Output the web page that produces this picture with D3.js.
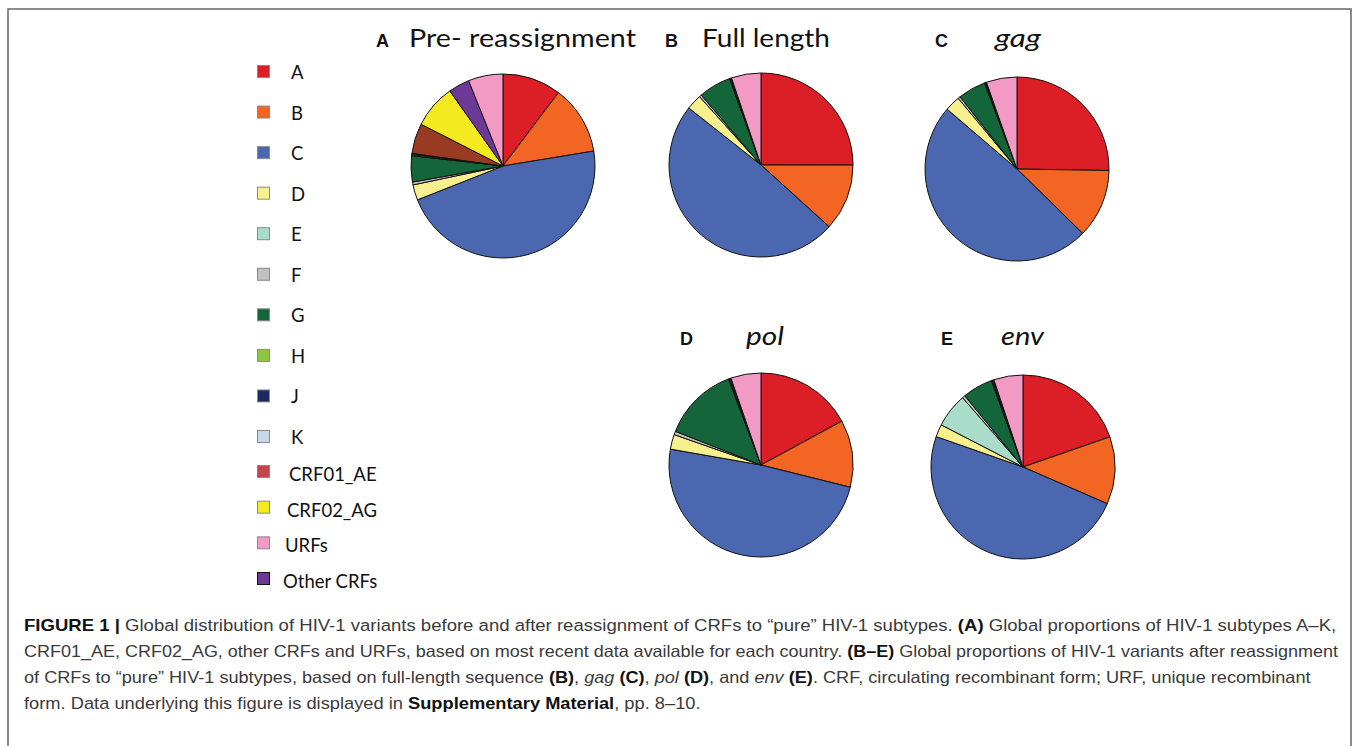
<!DOCTYPE html>
<html>
<head>
<meta charset="utf-8">
<script src="https://cdnjs.cloudflare.com/ajax/libs/d3/7.8.5/d3.min.js"></script>
<style>
  html, body { margin: 0; padding: 0; background: #fff; }
  svg { display: block; }
</style>
</head>
<body>
<svg id="fig" width="1357" height="746"></svg>
<script>
// HIV-1 variant categories, in the order the slices are drawn (clockwise from 12 o'clock)
const pieOrder = ["A", "B", "C", "D", "E", "F", "G", "H", "J", "K", "CRF01_AE", "CRF02_AG", "Other CRFs", "URFs"];
// legend lists URFs before Other CRFs
const legendOrder = ["A", "B", "C", "D", "E", "F", "G", "H", "J", "K", "CRF01_AE", "CRF02_AG", "URFs", "Other CRFs"];

// percentages (same order as pieOrder)
const preReassignment = [10.3, 12.1, 46.6, 2.7, 0, 0.5, 4.6, 0.2, 0.1, 0.1, 5.3, 7.7, 3.7, 6.1];
const fullLength      = [25.0, 11.7, 48.9, 2.7, 0, 0.4, 5.7, 0.1, 0.2, 0.05, 0, 0, 0, 5.2];
const gagValues       = [25.3, 12.1, 49.0, 2.7, 0, 0.4, 4.9, 0.1, 0.2, 0.05, 0, 0, 0, 5.4];
const polValues       = [17.1, 11.8, 48.9, 2.6, 0, 0.6, 13.3, 0.1, 0.3, 0.05, 0, 0, 0, 5.3];
const envValues       = [19.6, 11.8, 48.6, 2.2, 6.0, 0.5, 5.3, 0.1, 0.3, 0.05, 0, 0, 0, 5.1];

const panelLetters = ["A", "B", "C", "D", "E"];
const panelTitles = ["Pre- reassignment", "Full length", "gag", "pol", "env"];
const panelValues = [preReassignment, fullLength, gagValues, polValues, envValues];

const colors = ["#dc1f26", "#f26522", "#4a67b0", "#f7f08e", "#a9dcc9", "#c0c0c0", "#14653a",
                "#8dc640", "#1c2a5e", "#c6d9ec", "#993b22", "#f3ea1f", "#6d3996", "#f29ac4"];

const captionLines = [
  [["FIGURE 1 |", "b"], [" Global distribution of HIV-1 variants before and after reassignment of CRFs to \u201cpure\u201d HIV-1 subtypes. ", ""], ["(A)", "b"], [" Global proportions of HIV-1 subtypes A\u2013K,", ""]],
  [["CRF01_AE, CRF02_AG, other CRFs and URFs, based on most recent data available for each country. ", ""], ["(B\u2013E)", "b"], [" Global proportions of HIV-1 variants after reassignment", ""]],
  [["of CRFs to \u201cpure\u201d HIV-1 subtypes, based on full-length sequence ", ""], ["(B)", "b"], [", ", ""], ["gag", "i"], [" ", ""], ["(C)", "b"], [", ", ""], ["pol", "i"], [" ", ""], ["(D)", "b"], [", and ", ""], ["env", "i"], [" ", ""], ["(E)", "b"], [". CRF, circulating recombinant form; URF, unique recombinant", ""]],
  [["form. Data underlying this figure is displayed in ", ""], ["Supplementary Material", "b"], [", pp. 8\u201310.", ""]]
];

// layout
var layout = {
  A: {cx: 503, cy: 166, letterX: 376, titleX: 409, titleY: 47, titleW: 227},
  B: {cx: 761, cy: 165, letterX: 665, titleX: 702, titleY: 47, titleW: 128},
  C: {cx: 1017, cy: 169, letterX: 935, titleX: 995, titleY: 47, titleW: 46},
  D: {cx: 761, cy: 465, letterX: 680, titleX: 746, titleY: 345, titleW: 38},
  E: {cx: 1023, cy: 467, letterX: 941, titleX: 1001, titleY: 345, titleW: 43}
};
var radius = 92;
var captionEnds = [1337, 1339, 1311, 701];

var svg = d3.select("#fig");

var color = d3.scaleOrdinal().domain(pieOrder).range(colors);
var swatchColor = function(k) { return k == "CRF01_AE" ? "#c1464a" : color(k); };

// frame, open at the bottom
svg.append("path")
  .attr("d", "M8,746V9H1351V746")
  .attr("fill", "none")
  .attr("stroke", "#666")
  .attr("stroke-width", 1.5);

var pie = d3.pie().sort(null).value(function(d) { return d.value; });
var arc = d3.arc().innerRadius(0).outerRadius(radius);

panelLetters.forEach(function(letter, i) {
  var L = layout[letter];
  var data = pieOrder.map(function(k, j) { return {key: k, value: panelValues[i][j]}; })
    .filter(function(d) { return d.value > 0; });

  var g = svg.append("g").attr("transform", "translate(" + L.cx + "," + L.cy + ")");
  g.selectAll("path")
    .data(pie(data))
    .enter().append("path")
      .attr("d", arc)
      .attr("fill", function(d) { return color(d.data.key); })
      .attr("stroke", "#111")
      .attr("stroke-width", 1)
      .attr("stroke-linejoin", "round");

  svg.append("text")
    .attr("x", L.letterX)
    .attr("y", L.titleY)
    .attr("font-family", "Liberation Sans, Arial, sans-serif")
    .attr("font-weight", "bold")
    .attr("font-size", 18)
    .attr("fill", "#111")
    .text(letter);

  var italic = i >= 2;
  svg.append("text")
    .attr("x", L.titleX)
    .attr("y", L.titleY)
    .attr("font-family", "Lato, Open Sans, sans-serif")
    .attr("font-style", italic ? "italic" : "normal")
    .attr("font-size", 25)
    .attr("fill", "#111")
    .attr("textLength", L.titleW)
    .attr("lengthAdjust", "spacingAndGlyphs")
    .text(panelTitles[i]);
});

// legend
var yLetters = d3.scalePoint().domain(legendOrder.slice(0, 10)).range([72, 437]);
var yCrfs = d3.scalePoint().domain(legendOrder.slice(10)).range([472, 579]);
var legendY = function(k) { return legendOrder.indexOf(k) < 10 ? yLetters(k) : yCrfs(k); };

var items = svg.append("g").selectAll("g")
  .data(legendOrder)
  .enter().append("g")
    .attr("transform", function(d) { return "translate(0," + legendY(d) + ")"; });

items.append("rect")
  .attr("x", 257.5)
  .attr("y", -6.5)
  .attr("width", 12)
  .attr("height", 12)
  .attr("fill", swatchColor)
  .attr("stroke", function(d) { return d == "Other CRFs" ? "#111" : "#8a8a8a"; })
  .attr("stroke-width", 1);

items.append("text")
  .attr("x", function(d, i) { return i < 10 ? 291 : 289 - (i - 10) * 2; })
  .attr("y", function(d, i) { return i < 10 ? 7 : 9; })
  .attr("font-family", "Lato, Open Sans, sans-serif")
  .attr("font-size", 18.5)
  .attr("fill", "#111")
  .text(function(d) { return d; });

// caption, each line stretched to the width it has in the figure
captionLines.forEach(function(line, i) {
  var t = svg.append("text")
    .attr("font-family", "Liberation Sans, Arial, sans-serif")
    .attr("font-size", 16.5)
    .attr("fill", "#3a3a3a");
  line.forEach(function(seg) {
    t.append("tspan")
      .attr("font-weight", seg[1] == "b" ? "bold" : null)
      .attr("font-style", seg[1] == "i" ? "italic" : null)
      .attr("fill", seg[1] == "b" ? "#111" : null)
      .style("white-space", "pre")
      .text(seg[0]);
  });
  var w = t.node().getComputedTextLength();
  var sx = (captionEnds[i] - 24) / w;
  t.attr("transform", "translate(24," + (631 + i * 26) + ") scale(" + sx + ",1)");
});
</script>
</body>
</html>
